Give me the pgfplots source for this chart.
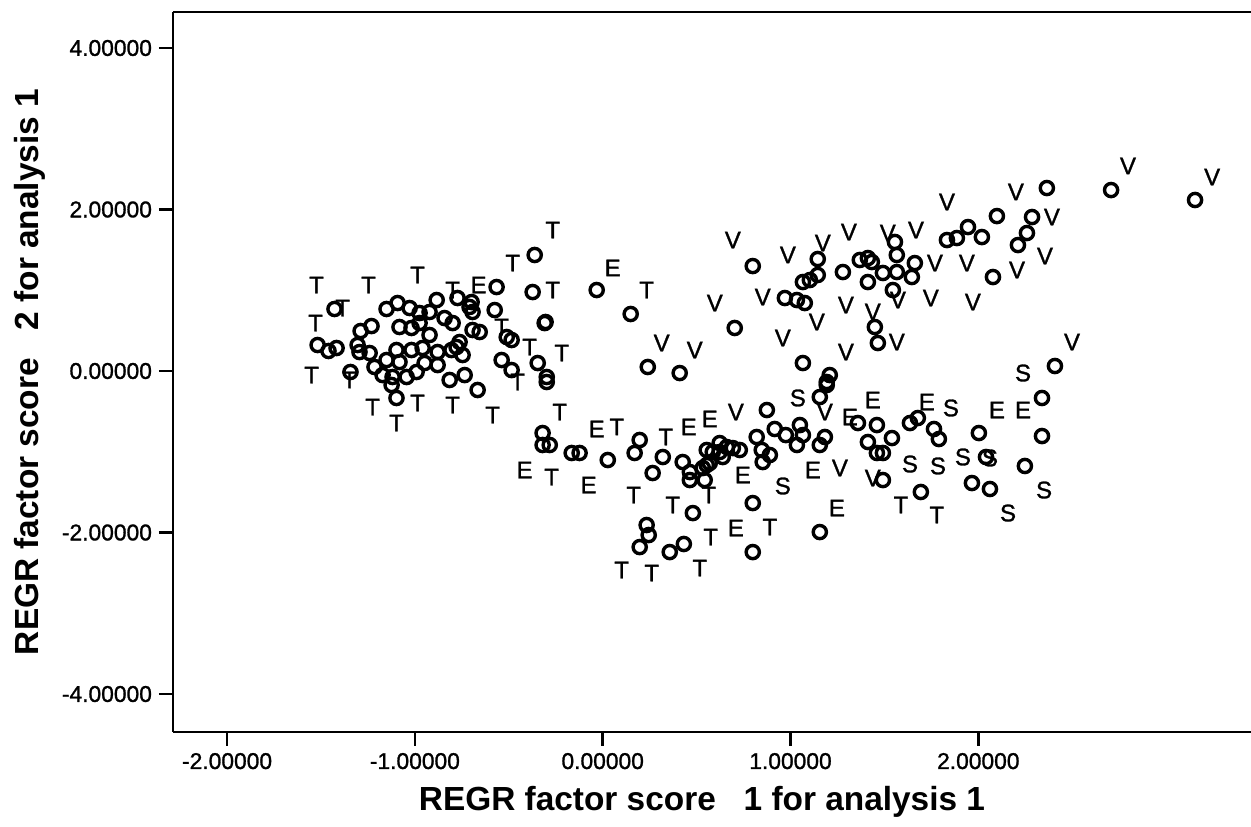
\documentclass[border=0pt]{standalone}
\usepackage{fontspec}
\setmainfont{Liberation Sans}
\newfontfamily\medfont[FakeBold=1.2]{Liberation Sans}
\usepackage{pgfplots}
\pgfplotsset{compat=1.18}

% factor scores (circles)
\pgfplotstableread{
x y
-1.428 0.768
-1.518 0.322
-1.460 0.248
-1.417 0.285
-1.343 -0.012
-1.289 0.495
-1.231 0.557
-1.305 0.322
-1.295 0.235
-1.241 0.223
-1.215 0.050
-1.172 -0.050
-1.151 0.768
-1.092 0.842
-1.028 0.780
-0.975 0.718
-0.922 0.731
-0.884 0.879
-0.975 0.594
-1.082 0.545
-1.018 0.533
-0.922 0.446
-1.098 0.260
-1.018 0.260
-1.151 0.136
-1.082 0.111
-0.959 0.285
-0.879 0.235
-0.948 0.099
-0.879 0.074
-1.119 -0.074
-1.044 -0.074
-0.991 -0.012
-1.124 -0.173
-1.098 -0.334
-0.799 0.594
-0.805 0.260
-0.815 -0.111
-0.773 0.904
-0.709 0.793
-0.778 0.297
-0.746 0.198
-0.735 -0.050
-0.698 0.854
-0.693 0.731
-0.693 0.508
-0.655 0.483
-0.762 0.359
-0.666 -0.235
-0.575 0.755
-0.565 1.040
-0.538 0.136
-0.485 0.012
-0.511 0.421
-0.485 0.384
-0.309 0.594
-0.346 0.099
-0.298 -0.074
-0.362 1.437
-0.373 0.978
-0.842 0.656
-0.032 1.003
0.149 0.706
-0.304 0.607
0.240 0.050
0.410 -0.025
0.703 0.533
0.799 1.300
-0.298 -0.136
-0.320 -0.768
-0.320 -0.916
-0.282 -0.916
-0.165 -1.015
-0.123 -1.015
0.027 -1.102
0.197 -0.854
0.170 -1.015
0.320 -1.065
0.266 -1.263
0.426 -1.127
0.464 -1.251
0.464 -1.350
0.543 -1.350
0.533 -1.201
0.570 -1.139
0.586 -1.003
0.623 -0.892
0.480 -1.759
0.234 -1.907
0.245 -2.031
0.197 -2.180
0.357 -2.242
0.432 -2.142
0.874 -0.483
1.156 -0.322
1.193 -0.173
1.359 -0.644
1.460 -0.669
1.412 -0.879
1.460 -1.015
1.492 -1.015
1.540 -0.830
0.554 -0.978
0.554 -1.164
0.623 -1.003
0.661 -0.941
0.693 -0.954
0.730 -0.978
0.639 -1.065
0.820 -0.817
0.847 -0.978
0.890 -1.040
0.852 -1.127
0.916 -0.718
0.975 -0.793
1.034 -0.916
1.050 -0.669
1.066 -0.793
1.156 -0.916
1.183 -0.817
1.492 -1.350
0.799 -1.635
1.156 -1.994
0.799 -2.242
2.408 0.062
2.339 -0.334
1.636 -0.644
1.678 -0.582
1.764 -0.718
1.790 -0.842
2.003 -0.768
2.339 -0.805
2.041 -1.065
2.248 -1.176
1.694 -1.498
1.966 -1.387
2.062 -1.461
1.145 1.387
1.279 1.226
1.369 1.375
1.412 1.399
1.433 1.350
1.556 1.598
1.566 1.437
1.492 1.214
1.412 1.102
1.566 1.226
1.545 1.003
1.066 1.102
1.103 1.127
1.145 1.189
0.970 0.904
1.034 0.879
1.076 0.842
1.449 0.545
1.465 0.347
1.066 0.099
1.209 -0.050
1.193 -0.136
2.365 2.266
2.099 1.919
2.286 1.907
2.259 1.709
2.211 1.560
2.078 1.164
1.945 1.783
2.019 1.659
1.886 1.647
1.833 1.622
1.662 1.337
1.646 1.164
2.707 2.241
3.154 2.118
}\scores

% case labels
\pgfplotstableread{
x y l
-1.524 1.065 T
-1.247 1.065 T
-0.986 1.189 T
-1.529 0.594 T
-1.550 -0.050 T
-1.225 -0.446 T
-1.098 -0.644 T
-0.986 -0.396 T
-0.799 -0.421 T
-0.586 -0.545 T
-1.385 0.780 T
-1.348 -0.111 T
-0.799 1.003 T
-0.661 1.065 E
-0.266 1.746 T
-0.479 1.337 T
0.053 1.276 E
-0.266 1.003 T
0.234 1.003 T
-0.538 0.545 T
-0.389 0.297 T
-0.218 0.223 T
-0.453 -0.136 T
-0.229 -0.508 T
-0.032 -0.718 E
0.075 -0.693 T
0.336 -0.817 T
0.458 -0.693 E
0.570 -0.594 E
-0.416 -1.226 E
-0.272 -1.313 T
-0.075 -1.412 E
0.165 -1.536 T
0.373 -1.659 T
0.565 -1.536 T
0.575 -2.056 T
0.101 -2.464 T
0.261 -2.502 T
0.517 -2.440 T
0.709 -0.508 V
1.039 -0.334 S
1.183 -0.508 V
1.316 -0.570 E
1.438 -0.359 E
0.746 -1.288 E
1.119 -1.226 E
1.263 -1.201 V
0.959 -1.424 S
1.438 -1.325 V
1.247 -1.697 E
0.709 -1.944 E
0.890 -1.932 T
2.238 -0.025 S
1.726 -0.384 E
1.854 -0.458 S
2.099 -0.483 E
2.238 -0.483 E
1.636 -1.152 S
1.785 -1.176 S
1.918 -1.065 S
2.062 -1.077 S
1.588 -1.659 T
1.779 -1.783 T
2.158 -1.759 S
2.350 -1.474 S
0.693 1.622 V
0.986 1.437 V
1.172 1.585 V
1.311 1.721 V
1.518 1.709 V
0.597 0.842 V
0.852 0.916 V
1.295 0.817 V
1.140 0.607 V
1.438 0.731 V
1.566 0.359 V
0.959 0.409 V
0.314 0.347 V
0.490 0.260 V
1.295 0.235 V
1.833 2.093 V
2.200 2.217 V
2.392 1.907 V
2.355 1.424 V
2.206 1.251 V
1.668 1.746 V
1.769 1.337 V
1.939 1.337 V
1.572 0.879 V
1.747 0.904 V
1.971 0.854 V
2.499 0.359 V
2.797 2.539 V
3.245 2.402 V
}\caselabels

\begin{document}
\begin{tikzpicture}
\begin{axis}[
  name=ax,
  scale only axis,
  width=539pt, height=360pt,
  xmin=-2.288, xmax=3.452, ymin=-4.470, ymax=4.446,
  axis x line*=bottom, axis y line*=left,
  axis line style={line width=1.3pt, -},
  xtick={-2,-1,0,1,2},
  xticklabels={-2.00000,-1.00000,0.00000,1.00000,2.00000},
  ytick={-4,-2,0,2,4},
  yticklabels={-4.00000,-2.00000,0.00000,2.00000,4.00000},
  tick align=outside, major tick length=7pt,
  tick style={line width=1.3pt, black},
  ticklabel style={font=\medfont\fontsize{11.4}{13}\selectfont},
  xlabel={REGR factor score\ \ \ 1 for analysis 1},
  ylabel={REGR factor score\ \ \ 2 for analysis 1},
  label style={font=\bfseries\fontsize{16.7}{19}\selectfont, inner sep=0pt},
  xlabel style={at={(axis description cs:0.4907,-0.0972)}, anchor=center},
  ylabel style={at={(axis description cs:-0.1331,0.5)}, anchor=center},
  clip=false,
]
\draw[line width=1.3pt] (rel axis cs:0,1) -- (rel axis cs:1,1);
\addplot[only marks, mark=o, mark size=3.3pt, mark options={line width=1.7pt}, black]
  table {\scores};
\addplot[only marks, mark=none, nodes near coords, point meta=explicit symbolic,
  every node near coord/.append style={anchor=center, inner sep=0pt,
    font=\medfont\fontsize{12}{14}\selectfont}]
  table[meta=l] {\caselabels};
\end{axis}
\pgfresetboundingbox
\path[use as bounding box] ([shift={(-86.5pt,-47.5pt)}]ax.south west)
  rectangle ([shift={(0pt,6pt)}]ax.north east);
\end{tikzpicture}
\end{document}
